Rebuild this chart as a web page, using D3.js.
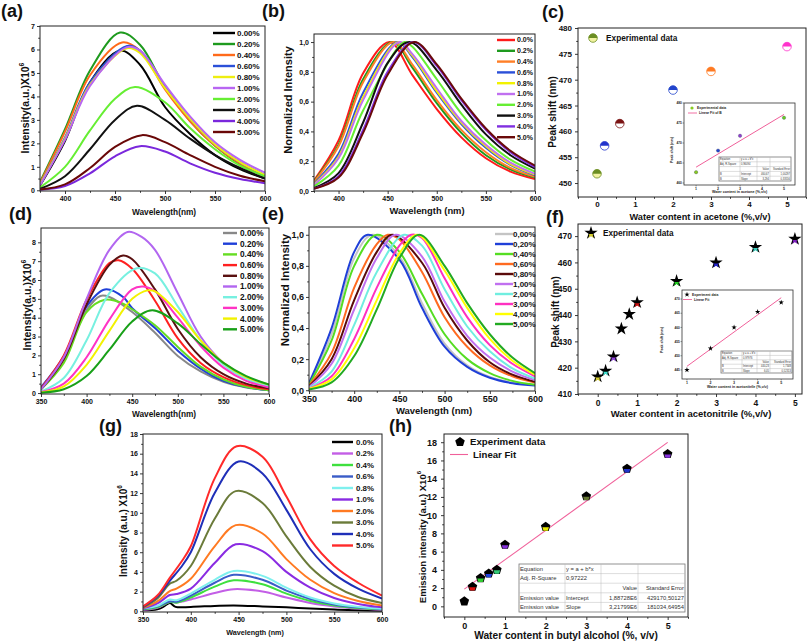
<!DOCTYPE html>
<html><head><meta charset="utf-8">
<script src="https://cdn.jsdelivr.net/npm/d3@7/dist/d3.min.js"></script>
<style>html,body{margin:0;padding:0;background:#fff;overflow:hidden}</style>
</head><body>
<script>
// ================= DATA =================
// (a) emission spectra, acetone (intensity x10^6)
const aLabels = ["0.00%","0.20%","0.40%","0.60%","0.80%","1.00%","2.00%","3.00%","4.00%","5.00%"];
const aXTicks = [400,450,500,550,600];
const aYTicks = [0,1,2,3,4,5,6,7];
const aSeries = [
 [[375,.2],[400,2.1],[425,4.6],[455,5.95],[475,5.35],[500,3.55],[525,2.4],[550,1.5],[575,.9],[600,.5]],
 [[375,.35],[400,2.6],[425,5.1],[455,6.72],[475,6.2],[500,4.4],[525,2.95],[550,1.9],[575,1.12],[600,.6]],
 [[375,.3],[400,2.5],[425,4.9],[457,6.3],[475,5.95],[500,4.3],[525,2.95],[550,1.9],[575,1.15],[600,.62]],
 [[375,.25],[400,2.25],[425,4.6],[462,6.15],[475,5.95],[500,4.4],[525,3.05],[550,1.95],[575,1.2],[600,.65]],
 [[375,.25],[400,2.2],[425,4.5],[462,6.05],[475,5.85],[500,4.35],[525,3.05],[550,1.95],[575,1.2],[600,.65]],
 [[375,.22],[400,2.15],[425,4.45],[462,6.1],[475,5.95],[500,4.5],[525,3.15],[550,2.05],[575,1.3],[600,.75]],
 [[375,.12],[400,1.0],[425,2.55],[450,3.9],[470,4.4],[500,3.75],[525,2.65],[550,1.75],[575,1.05],[600,.6]],
 [[375,.06],[400,.6],[425,1.75],[450,3.0],[472,3.6],[500,3.0],[525,2.2],[550,1.5],[575,.95],[600,.5]],
 [[375,.02],[400,.18],[425,.72],[450,1.45],[475,1.88],[500,1.65],[525,1.15],[550,.75],[575,.48],[600,.3]],
 [[375,.03],[400,.25],[425,.95],[450,1.85],[477,2.35],[500,2.05],[525,1.5],[550,1.0],[575,.62],[600,.38]]
];
// (b) normalized spectra, acetone
const bLabels = ["0.0%","0.2%","0.4%","0.6%","0.8%","1.0%","2.0%","3.0%","4.0%","5.0%"];
const bYTicks = [0,0.2,0.4,0.6,0.8,1.0];
const bSeries = [
 [[375,.07],[400,.34],[425,.79],[452,1],[475,.78],[500,.55],[525,.36],[550,.22],[575,.13],[600,.08]],
 [[375,.065],[400,.31],[425,.75],[455,1],[475,.83],[500,.59],[525,.39],[550,.24],[575,.145],[600,.09]],
 [[375,.06],[400,.30],[425,.73],[456,1],[475,.85],[500,.61],[525,.41],[550,.26],[575,.155],[600,.095]],
 [[375,.05],[400,.25],[425,.66],[460,1],[475,.90],[500,.66],[525,.45],[550,.29],[575,.175],[600,.105]],
 [[375,.045],[400,.23],[425,.63],[461,1],[475,.91],[500,.67],[525,.46],[550,.30],[575,.18],[600,.11]],
 [[375,.04],[400,.22],[425,.61],[462,1],[475,.92],[500,.69],[525,.47],[550,.31],[575,.19],[600,.115]],
 [[375,.03],[400,.17],[425,.54],[467,1],[475,.97],[500,.75],[525,.52],[550,.34],[575,.21],[600,.13]],
 [[375,.02],[400,.12],[425,.46],[450,.86],[472,1],[500,.81],[525,.58],[550,.38],[575,.24],[600,.15]],
 [[375,.015],[400,.10],[425,.41],[450,.80],[476,1],[500,.84],[525,.61],[550,.41],[575,.26],[600,.16]],
 [[375,.015],[400,.09],[425,.39],[450,.78],[477,1],[500,.85],[525,.62],[550,.42],[575,.27],[600,.17]]
];
// (c) peak shift, acetone
const cX = [0,0.2,0.6,2,3,5];
const cY = [451.8,457.2,461.5,468,471.6,476.4];
const cXTicks = [0,1,2,3,4,5];
const cYTicks = [450,455,460,465,470,475,480];
const cInsetX = [1,2,3,5];
const cInsetY = [462.7,468.1,471.8,476.3];
const cInsetXTicks = [1,2,3,4,5];
const cInsetYTicks = [460,465,470,475,480];
const cFit = {intercept: 460.67, slope: 3.294, x0: 1, x1: 5};
const cTable = [["Equation","y = a + b*x","",""],["Adj. R-Square","0,96094","",""],["","","Value","Standard Error"],["B","Intercept","460,67","1,00297"],["B","Slope","3,294","0,33556"]];
// (d) emission spectra, acetonitrile
const dLabels = ["0.00%","0.20%","0.40%","0.60%","0.80%","1.00%","2.00%","3.00%","4.00%","5.00%"];
const dXTicks = [350,400,450,500,550,600];
const dYTicks = [0,1,2,3,4,5,6,7,8];
const dSeries = [
 [[350,.3],[375,1.85],[400,4.4],[415,5.15],[425,5.1],[450,4.3],[475,3.2],[500,1.97],[525,1.15],[550,.6],[575,.3],[600,.15]],
 [[350,.3],[375,1.95],[400,4.6],[420,5.5],[440,5.1],[450,4.5],[475,3.45],[500,2.25],[525,1.3],[550,.65],[575,.32],[600,.15]],
 [[350,.2],[375,1.6],[400,4.3],[420,4.95],[440,4.75],[450,4.45],[475,3.6],[500,2.45],[525,1.4],[550,.72],[575,.33],[600,.15]],
 [[350,.25],[375,2.0],[400,4.95],[425,6.9],[435,7.05],[450,6.6],[475,4.9],[500,2.9],[525,1.6],[550,.85],[575,.42],[600,.2]],
 [[350,.2],[375,1.8],[400,4.7],[425,6.8],[440,7.3],[450,7.1],[475,5.5],[500,3.4],[525,1.9],[550,1.0],[575,.5],[600,.25]],
 [[350,.2],[375,1.9],[400,5.0],[425,7.6],[445,8.55],[460,8.3],[475,7.6],[500,5.3],[525,3.0],[550,1.6],[575,.8],[600,.4]],
 [[350,.08],[375,.8],[400,2.8],[425,5.3],[455,6.62],[475,6.35],[500,4.6],[525,2.8],[550,1.5],[575,.75],[600,.35]],
 [[350,.05],[375,.5],[400,1.9],[425,3.9],[450,5.5],[462,5.65],[475,5.4],[500,4.0],[525,2.5],[550,1.35],[575,.65],[600,.3]],
 [[350,.03],[375,.35],[400,1.5],[425,3.3],[450,5.0],[467,5.45],[475,5.4],[500,4.3],[525,2.8],[550,1.6],[575,.85],[600,.45]],
 [[350,.02],[375,.2],[400,.9],[425,2.3],[450,3.8],[472,4.4],[500,3.7],[525,2.6],[550,1.6],[575,.9],[600,.45]]
];
// (e) normalized spectra, acetonitrile
const eLabels = ["0,00%","0,20%","0,40%","0,60%","0,80%","1,00%","2,00%","3,00%","4,00%","5,00%"];
const eYTicks = [0,0.2,0.4,0.6,0.8,1.0];
const eSeries = [
 [[350,.04],[375,.36],[400,.85],[420,1],[450,.86],[475,.56],[500,.30],[525,.16],[550,.085],[575,.05],[600,.035]],
 [[350,.045],[375,.40],[400,.89],[415,1],[450,.84],[475,.53],[500,.28],[525,.15],[550,.08],[575,.045],[600,.03]],
 [[350,.035],[375,.32],[400,.80],[425,1],[450,.89],[475,.62],[500,.36],[525,.20],[550,.11],[575,.06],[600,.035]],
 [[350,.03],[375,.24],[400,.66],[425,.94],[437,1],[450,.97],[475,.76],[500,.47],[525,.28],[550,.16],[575,.09],[600,.05]],
 [[350,.025],[375,.20],[400,.58],[425,.89],[442,1],[475,.82],[500,.53],[525,.32],[550,.18],[575,.10],[600,.055]],
 [[350,.02],[375,.17],[400,.52],[425,.85],[446,1],[475,.86],[500,.57],[525,.35],[550,.21],[575,.12],[600,.065]],
 [[350,.015],[375,.12],[400,.42],[425,.76],[455,1],[475,.93],[500,.65],[525,.41],[550,.25],[575,.14],[600,.075]],
 [[350,.01],[375,.09],[400,.33],[425,.66],[450,.93],[463,1],[475,.98],[500,.72],[525,.47],[550,.29],[575,.17],[600,.09]],
 [[350,.01],[375,.07],[400,.27],[425,.58],[450,.88],[470,1],[500,.77],[525,.53],[550,.33],[575,.19],[600,.10]],
 [[350,.005],[375,.05],[400,.22],[425,.52],[450,.85],[472,1],[500,.80],[525,.56],[550,.36],[575,.21],[600,.11]]
];
// (f) peak shift, acetonitrile
const fX = [0,0.2,0.4,0.6,0.8,1.0,2,3,4,5];
const fY = [416.6,418.8,424.2,434.8,440.3,444.8,452.9,459.9,465.8,468.9];
const fXTicks = [0,1,2,3,4,5];
const fYTicks = [410,420,430,440,450,460,470];
const fInsetX = [1,2,3,4,5];
const fInsetY = [445,452.6,460,465.5,468.8];
const fInsetXTicks = [1,2,3,4,5];
const fInsetYTicks = [445,450,455,460,465,470];
const fFit = {intercept: 440.23, slope: 6.05, x0: 1, x1: 5};
const fTable = [["Equation","y = a + b*x","",""],["Adj. R-Square","0,97976","",""],["","","Value","Standard Error"],["B","Intercept","440,23","1,7348"],["B","Slope","6,05","0,52313"]];
// (g) emission spectra, butyl alcohol
const gLabels = ["0.0%","0.2%","0.4%","0.6%","0.8%","1.0%","2.0%","3.0%","4.0%","5.0%"];
const gXTicks = [350,400,450,500,550,600];
const gYTicks = [0,2,4,6,8,10,12,14,16,18];
const gSeries = [
 [[350,.1],[365,.2],[372,.5],[378,.85],[384,.45],[400,.45],[425,.55],[445,.6],[475,.5],[500,.4],[525,.28],[550,.18],[575,.1],[600,.05]],
 [[350,.15],[365,.35],[378,.95],[385,.9],[400,1.2],[425,1.85],[445,2.25],[475,2.0],[500,1.4],[525,.85],[550,.5],[575,.28],[600,.15]],
 [[350,.2],[365,.4],[378,.95],[385,.88],[400,1.4],[425,2.5],[445,3.15],[475,2.75],[500,1.8],[525,1.05],[550,.6],[575,.33],[600,.2]],
 [[350,.25],[365,.5],[378,1.0],[385,.97],[400,1.6],[425,2.9],[445,3.7],[475,3.2],[500,2.1],[525,1.25],[550,.7],[575,.4],[600,.22]],
 [[350,.3],[365,.55],[378,1.2],[385,1.12],[400,1.8],[425,3.2],[445,4.1],[475,3.6],[500,2.4],[525,1.4],[550,.8],[575,.45],[600,.25]],
 [[350,.3],[365,.8],[378,1.65],[385,1.75],[400,2.3],[425,4.9],[447,6.8],[475,6.1],[500,4.0],[525,2.4],[550,1.35],[575,.75],[600,.4]],
 [[350,.35],[365,1.0],[378,2.05],[385,2.3],[400,3.3],[425,6.6],[447,8.75],[475,7.9],[500,5.3],[525,3.2],[550,1.85],[575,1.05],[600,.6]],
 [[350,.4],[365,1.3],[378,2.8],[385,3.1],[400,4.6],[425,9.4],[447,12.2],[475,11.0],[500,7.6],[525,4.5],[550,2.6],[575,1.45],[600,.85]],
 [[350,.45],[365,1.5],[378,3.1],[390,4.5],[400,6.0],[425,12.0],[450,15.2],[475,14.0],[500,10.3],[525,6.3],[550,3.8],[575,2.3],[600,1.3]],
 [[350,.5],[365,1.6],[378,3.4],[390,5.0],[400,6.6],[425,13.5],[448,16.75],[475,15.7],[500,11.65],[525,7.3],[550,4.6],[575,2.9],[600,1.6]]
];
// (h) emission intensity vs water content, butyl alcohol
const hX = [0,0.2,0.4,0.6,0.8,1,2,3,4,5];
const hY = [0.55,2.15,3.1,3.6,4.0,6.75,8.72,12.08,15.1,16.7];
const hXTicks = [0,1,2,3,4,5];
const hYTicks = [0,2,4,6,8,10,12,14,16,18];
const hFit = {intercept: 1.88728, slope: 3.21799, x0: 0, x1: 5};
const hTable = [["Equation","y = a + b*x","",""],["Adj. R-Square","0,97222","",""],["","","Value","Standard Error"],["Emission value","Intercept","1,88728E6","429170,50127"],["Emission value","Slope","3,21799E6","181034,64954"]];

// ================= STYLES =================
const FONT = "'Liberation Sans', Arial, Helvetica, sans-serif";
const aColors = ["#000000","#1e9a1e","#ff6a1a","#2b50d8","#eeee10","#b866f2","#66ee33","#111111","#7a28dc","#6a0808"];
const bColors = ["#ff1a1a","#1e9a1e","#ff7f27","#2b50d8","#f2f200","#c070f0","#66ee33","#111111","#8030e0","#6a0a0a"];
const dColors = ["#888888","#1f3fd8","#66dd22","#ff2020","#5a1010","#b266f0","#77f0e0","#ff33c4","#f2f200","#18a018"];
const eColors = ["#c4c4c4","#1f3fd8","#55dd22","#ff6a20","#5a0a0a","#c070f0","#70eee0","#ff30c0","#ffff00","#22aa22"];
const gColors = ["#000000","#c35ee6","#3ee03e","#3a5cc8","#7ff0ee","#8a2be2","#ff7a22","#6b7b3a","#1f2fb8","#ff2a2a"];
const cTop = ["#6b8e23","#2233cc","#7a1212","#2244cc","#ff7a22","#ff33cc"];
const cBot = ["#f2f2a0","#ffffff","#ffffff","#ffffff","#ffffff","#ffffff"];
const cInsetCol = ["#88cc22","#2244cc","#9040d0","#66cc22"];
const fCol = ["#d8d030","#40e0d0","#9040e0","#000000","#000000","#cc1010","#22cc22","#2222cc","#40d0c0","#8020c0"];
const hCol = ["#000000","#e01010","#33cc33","#2244dd","#33cc77","#8833dd","#e8e800","#667733","#2233cc","#8833dd"];
const PINK = "#f0609a";

const svg = d3.select('body').append('svg').attr('width',808).attr('height',642)
  .style('display','block').attr('font-family',FONT);
const defs = svg.append('defs');
defs.append('clipPath').attr('id','lowHalf').attr('clipPathUnits','objectBoundingBox')
  .append('rect').attr('x',-0.1).attr('y',0.5).attr('width',1.2).attr('height',0.6);
const comma1 = d => d.toFixed(1).replace('.', ',');

function axisStyle(sel, fs){
  sel.select('.domain').remove();
  sel.attr('font-family',null).attr('font-size',null);
  sel.selectAll('line').attr('stroke','#222').attr('stroke-width',0.9);
  sel.selectAll('text').attr('font-family',FONT).attr('font-size',fs).attr('font-weight','bold').attr('fill','#111');
}
function drawAxes(g, x, y, p){
  const gx = g.append('g').attr('transform',`translate(0,${p.B})`)
    .call(d3.axisBottom(x).tickValues(p.xt).tickSize(3).tickPadding(p.xpad ?? 2).tickFormat(p.xf || (d=>d)));
  axisStyle(gx, p.tf);
  const gy = g.append('g').attr('transform',`translate(${p.L},0)`)
    .call(d3.axisLeft(y).tickValues(p.yt).tickSize(3).tickPadding(p.ypad ?? 2).tickFormat(p.yf || (d=>d)));
  axisStyle(gy, p.tf);
  if (p.xm){ const m = g.append('g').attr('transform',`translate(0,${p.B})`).call(d3.axisBottom(x).tickValues(p.xm).tickSize(1.8).tickFormat(()=>'')); axisStyle(m,p.tf); }
  if (p.ym){ const m = g.append('g').attr('transform',`translate(${p.L},0)`).call(d3.axisLeft(y).tickValues(p.ym).tickSize(1.8).tickFormat(()=>'')); axisStyle(m,p.tf); }
  g.append('rect').attr('x',p.L).attr('y',p.T).attr('width',p.R-p.L).attr('height',p.B-p.T)
    .attr('fill','none').attr('stroke','#222').attr('stroke-width',1);
}
function panelLabel(x, y, t){
  svg.append('text').attr('x',x).attr('y',y).attr('font-size',18).attr('font-weight','bold').attr('fill','#111').text(t);
}
function xTitle(cx, y, t, fs){
  svg.append('text').attr('x',cx).attr('y',y).attr('text-anchor','middle').attr('font-size',fs)
    .attr('font-weight','bold').attr('fill','#111').text(t);
}
function yTitle(x, cy, parts, fs){
  const t = svg.append('text').attr('transform',`translate(${x},${cy}) rotate(-90)`).attr('text-anchor','middle')
    .attr('dominant-baseline','central').attr('font-size',fs).attr('font-weight','bold').attr('fill','#111');
  parts.forEach(pt=>{
    if (pt.sup) t.append('tspan').attr('font-size',fs*0.65).attr('dy',-fs*0.4).text(pt.t);
    else t.append('tspan').text(pt.t);
  });
}
function spectrum(p){
  const g = svg.append('g');
  const x = d3.scaleLinear().domain(p.xd).range([p.L,p.R]);
  const y = d3.scaleLinear().domain(p.yd).range([p.B,p.T]);
  const id = 'cl'+p.id;
  defs.append('clipPath').attr('id',id).append('rect').attr('x',p.L).attr('y',p.T).attr('width',p.R-p.L).attr('height',p.B-p.T);
  const line = d3.line().x(d=>x(d[0])).y(d=>y(d[1])).curve(d3.curveCatmullRom.alpha(0.5));
  const lg = g.append('g').attr('clip-path',`url(#${id})`);
  p.series.forEach((s,i)=>lg.append('path').attr('d',line(s)).attr('fill','none')
    .attr('stroke',p.colors[i]).attr('stroke-width',p.lw||2).attr('stroke-linejoin','round'));
  drawAxes(g,x,y,p);
  const L = p.leg;
  p.labels.forEach((t,i)=>{
    const yy = L.y + i*L.dy;
    g.append('line').attr('x1',L.x1).attr('x2',L.x2).attr('y1',yy).attr('y2',yy).attr('stroke',p.colors[i]).attr('stroke-width',2.4);
    g.append('text').attr('x',L.tx).attr('y',yy).attr('dy','0.35em').attr('font-size',L.fs).attr('font-weight','bold').attr('fill','#111').text(t);
  });
}
// markers
const symbolPentagon = { draw(ctx, size){ const r = Math.sqrt(size/2.3776);
  for (let i=0;i<5;i++){ const a = -Math.PI/2 + i*2*Math.PI/5; const px=r*Math.cos(a), py=r*Math.sin(a); if(i===0) ctx.moveTo(px,py); else ctx.lineTo(px,py);} ctx.closePath(); } };
function halfCircle(g, cx, cy, r, top, bot){
  g.append('circle').attr('cx',cx).attr('cy',cy).attr('r',r).attr('fill',bot).attr('stroke',top).attr('stroke-width',0.8);
  g.append('path').attr('d',`M${cx-r},${cy} A${r},${r} 0 0 1 ${cx+r},${cy} Z`).attr('fill',top);
}
function starMark(g, cx, cy, col, size){
  g.append('path').attr('d',d3.symbol(d3.symbolStar,size)()).attr('transform',`translate(${cx},${cy})`).attr('fill','#000');
  if (col !== '#000000') g.append('path').attr('d',d3.symbol(d3.symbolStar,size*0.4)())
    .attr('transform',`translate(${cx},${cy+1.3})`).attr('fill',col).attr('clip-path','url(#lowHalf)');
}
function pentMark(g, cx, cy, col, size){
  g.append('path').attr('d',d3.symbol(symbolPentagon,size)()).attr('transform',`translate(${cx},${cy})`).attr('fill','#000');
  if (col !== '#000000') g.append('path').attr('d',d3.symbol(symbolPentagon,size*0.55)())
    .attr('transform',`translate(${cx},${cy+0.8})`).attr('fill',col).attr('clip-path','url(#lowHalf)');
}
function table(g, cols, y0, rh, rows, fs, aligns){
  const w = cols[cols.length-1]-cols[0];
  g.append('rect').attr('x',cols[0]).attr('y',y0).attr('width',w).attr('height',rh*rows.length)
    .attr('fill','#fff').attr('stroke','#777').attr('stroke-width',0.8);
  for (let r=1;r<rows.length;r++) g.append('line').attr('x1',cols[0]).attr('x2',cols[cols.length-1]).attr('y1',y0+r*rh).attr('y2',y0+r*rh).attr('stroke','#bbb').attr('stroke-width',0.5);
  for (let c=1;c<cols.length-1;c++) g.append('line').attr('x1',cols[c]).attr('x2',cols[c]).attr('y1',y0).attr('y2',y0+rh*rows.length).attr('stroke','#bbb').attr('stroke-width',0.5);
  rows.forEach((row,r)=>row.forEach((t,c)=>{
    if(!t) return;
    const right = aligns[c]==='end';
    g.append('text').attr('x', right ? cols[c+1]-1 : cols[c]+1).attr('y',y0+r*rh+rh/2).attr('dy','0.35em')
      .attr('text-anchor', right?'end':'start').attr('font-size',fs).attr('fill','#333').text(t);
  }));
}
function inset(p){
  const g = svg.append('g');
  const x = d3.scaleLinear().domain(p.xd).range([p.L,p.R]);
  const y = d3.scaleLinear().domain(p.yd).range([p.B,p.T]);
  g.append('rect').attr('x',p.L).attr('y',p.T).attr('width',p.R-p.L).attr('height',p.B-p.T).attr('fill','#fff').attr('stroke','#333').attr('stroke-width',0.8);
  p.xt.forEach(v=>{ g.append('line').attr('x1',x(v)).attr('x2',x(v)).attr('y1',p.B).attr('y2',p.B+1.5).attr('stroke','#333').attr('stroke-width',0.5);
    g.append('text').attr('x',x(v)).attr('y',p.B+4.6).attr('text-anchor','middle').attr('font-size',3.6).attr('font-weight','bold').attr('fill','#222').text(v); });
  p.yt.forEach(v=>{ g.append('line').attr('x1',p.L-1.5).attr('x2',p.L).attr('y1',y(v)).attr('y2',y(v)).attr('stroke','#333').attr('stroke-width',0.5);
    g.append('text').attr('x',p.L-2.2).attr('y',y(v)).attr('dy','0.35em').attr('text-anchor','end').attr('font-size',3.2).attr('font-weight','bold').attr('fill','#222').text(v); });
  g.append('line').attr('x1',x(p.fit.x0)).attr('x2',x(p.fit.x1))
    .attr('y1',y(p.fit.intercept+p.fit.slope*p.fit.x0)).attr('y2',y(p.fit.intercept+p.fit.slope*p.fit.x1))
    .attr('stroke',PINK).attr('stroke-width',1);
  p.px.forEach((v,i)=>p.mark(g, x(v), y(p.py[i]), i));
  p.legMark(g, p.leg.x, p.leg.y);
  g.append('text').attr('x',p.leg.x+5).attr('y',p.leg.y).attr('dy','0.35em').attr('font-size',3.4).attr('font-weight','bold').attr('fill','#222').text(p.leg.t1);
  g.append('line').attr('x1',p.leg.x-4).attr('x2',p.leg.x+5).attr('y1',p.leg.y+5).attr('y2',p.leg.y+5).attr('stroke',PINK).attr('stroke-width',0.9);
  g.append('text').attr('x',p.leg.x+7).attr('y',p.leg.y+5).attr('dy','0.35em').attr('font-size',3.4).attr('font-weight','bold').attr('fill','#222').text(p.leg.t2);
  table(g, p.tab.cols, p.tab.y0, p.tab.rh, p.tab.rows, 2.6, ['start','start','end','end']);
  svg.append('text').attr('x',(p.L+p.R)/2).attr('y',p.xtY).attr('text-anchor','middle').attr('font-size',3.6).attr('font-weight','bold').attr('fill','#222').text(p.xtitle);
  svg.append('text').attr('transform',`translate(${p.ytX},${p.ytY}) rotate(-90)`).attr('text-anchor','middle').attr('font-size',3.6).attr('font-weight','bold').attr('fill','#222').text(p.ytitle);
}
const range = (a,b,s) => d3.range(a, b+s/2, s);

// ================= (a) =================
spectrum({id:'a', L:40, R:265, T:26, B:191, xd:[375,600], yd:[-0.03,7], xt:aXTicks, xm:[375,425,475,525,575],
  yt:aYTicks, ym:range(0.5,6.5,1), tf:7, series:aSeries, colors:aColors, labels:aLabels,
  leg:{x1:213,x2:235,tx:237,y:33,dy:11,fs:8}});
panelLabel(1,17,'(a)');
xTitle(164,215,'Wavelength(nm)',8.3);
yTitle(25,108,[{t:'Intensity(a.u.)X10'},{t:'6',sup:true}],10.5);

// ================= (b) =================
spectrum({id:'b', L:314, R:535, T:34, B:191, xd:[375,600], yd:[0,1.054], xt:aXTicks, xm:[375,425,475,525,575],
  yt:bYTicks, ym:range(0.1,0.9,0.2), yf:comma1, tf:7, series:bSeries, colors:bColors, labels:bLabels,
  leg:{x1:497,x2:515,tx:517,y:40,dy:10.8,fs:7}});
panelLabel(262,17,'(b)');
xTitle(427,214,'Wavelength (nm)',9.4);
yTitle(288,100,[{t:'Normalized Intensity'}],11);

// ================= (c) =================
(function(){
  const p = {L:578, R:806, T:28, B:197, xd:[-0.5,5.5], yd:[447.3,480], xt:cXTicks, xm:[-0.5,0.5,1.5,2.5,3.5,4.5,5.5],
    yt:cYTicks, ym:range(452.5,477.5,5), tf:8, xpad:1.5, ypad:3};
  const g = svg.append('g');
  const x = d3.scaleLinear().domain(p.xd).range([p.L,p.R]);
  const y = d3.scaleLinear().domain(p.yd).range([p.B,p.T]);
  drawAxes(g,x,y,p);
  cX.forEach((v,i)=>halfCircle(g, x(v), y(cY[i]), 4.3, cTop[i], cBot[i]));
  halfCircle(g, 593, 38, 4.3, cTop[0], cBot[0]);
  g.append('text').attr('x',606).attr('y',38).attr('dy','0.35em').attr('font-size',8.3).attr('font-weight','bold').attr('fill','#111').text('Experimental data');
  inset({L:684, R:795, T:103, B:185, xd:[0.45,5.5], yd:[459.5,480], xt:cInsetXTicks, yt:cInsetYTicks,
    fit:cFit, px:cInsetX, py:cInsetY,
    mark:(gg,cx,cy,i)=>gg.append('circle').attr('cx',cx).attr('cy',cy).attr('r',1.7).attr('fill',cInsetCol[i]).attr('stroke','#335').attr('stroke-width',0.3),
    legMark:(gg,cx,cy)=>gg.append('circle').attr('cx',cx).attr('cy',cy).attr('r',1.6).attr('fill','#88cc22'),
    leg:{x:692,y:108,t1:'Experimental data',t2:'Linear Fit of B'},
    tab:{cols:[719,740,757,770,791], y0:157, rh:4.8, rows:cTable},
    xtitle:'Water content in acetone (%,v/v)', xtY:193, ytitle:'Peak shift (nm)', ytX:673, ytY:150});
})();
panelLabel(542,18,'(c)');
xTitle(700,219.5,'Water content in acetone (%,v/v)',9.2);
yTitle(552,112,[{t:'Peak shift (nm)'}],10);

// ================= (d) =================
spectrum({id:'d', L:41, R:269, T:228, B:394, xd:[350,600], yd:[-0.05,8.76], xt:dXTicks, xm:[375,425,475,525,575],
  yt:dYTicks, ym:range(0.5,7.5,1), tf:7, series:dSeries, colors:dColors, labels:dLabels,
  leg:{x1:223,x2:237,tx:240,y:233,dy:10.7,fs:8.3}});
panelLabel(9,220,'(d)');
xTitle(164,417,'Wavelength(nm)',8.3);
yTitle(27,305,[{t:'Intensity(a.u.)X10'},{t:'6',sup:true}],10.5);

// ================= (e) =================
spectrum({id:'e', L:309, R:535, T:227, B:391, xd:[350,600], yd:[-0.005,1.05], xt:dXTicks, xm:[375,425,475,525,575],
  yt:eYTicks, ym:range(0.1,0.9,0.2), yf:comma1, tf:9, series:eSeries, colors:eColors, labels:eLabels, lw:2,
  leg:{x1:495,x2:513,tx:513,y:234,dy:10,fs:8}});
panelLabel(262,220,'(e)');
xTitle(434,414,'Wavelength (nm)',9.5);
yTitle(285,290,[{t:'Normalized Intensity'}],11.5);

// ================= (f) =================
(function(){
  const p = {L:578, R:802, T:224, B:394, xd:[-0.5,5.18], yd:[410,474.6], xt:fXTicks, xm:[-0.5,0.5,1.5,2.5,3.5,4.5],
    yt:fYTicks, ym:range(415,465,10), tf:8.5, xpad:3, ypad:3};
  const g = svg.append('g');
  const x = d3.scaleLinear().domain(p.xd).range([p.L,p.R]);
  const y = d3.scaleLinear().domain(p.yd).range([p.B,p.T]);
  drawAxes(g,x,y,p);
  fX.forEach((v,i)=>starMark(g, x(v), y(fY[i]), fCol[i], 55));
  starMark(g, 591, 233, '#d8d030', 55);
  g.append('text').attr('x',603).attr('y',233).attr('dy','0.35em').attr('font-size',8.2).attr('font-weight','bold').attr('fill','#111').text('Experimental data');
  inset({L:682, R:793, T:290, B:379, xd:[0.79,5.5], yd:[441.8,473.2], xt:fInsetXTicks, yt:fInsetYTicks,
    fit:fFit, px:fInsetX, py:fInsetY,
    mark:(gg,cx,cy)=>gg.append('path').attr('d',d3.symbol(d3.symbolStar,9)()).attr('transform',`translate(${cx},${cy})`).attr('fill','#000'),
    legMark:(gg,cx,cy)=>gg.append('path').attr('d',d3.symbol(d3.symbolStar,9)()).attr('transform',`translate(${cx},${cy})`).attr('fill','#000'),
    leg:{x:687,y:294.5,t1:'Experiment data',t2:'Linear Fit'},
    tab:{cols:[721,742,757,770,792], y0:351, rh:4.4, rows:fTable},
    xtitle:'Water content in acetonitrile (%,v/v)', xtY:388, ytitle:'Peak shift (nm)', ytX:663, ytY:340});
})();
panelLabel(546,223,'(f)');
xTitle(691,417,'Water content in acetonitrile (%,v/v)',9.5);
yTitle(555,312,[{t:'Peak shift (nm)'}],10);

// ================= (g) =================
spectrum({id:'g', L:143, R:382, T:434, B:612, xd:[350,600], yd:[-0.07,18], xt:gXTicks, xm:[375,425,475,525,575],
  yt:gYTicks, ym:range(1,17,2), tf:7, series:gSeries, colors:gColors, labels:gLabels,
  leg:{x1:332,x2:353,tx:356,y:442,dy:11.5,fs:7.9}});
panelLabel(99,432,'(g)');
xTitle(255,635,'Wavelength (nm)',7.2);
yTitle(123,531,[{t:'Intensity (a.u.) X10'},{t:'6',sup:true}],10);

// ================= (h) =================
(function(){
  const p = {L:444, R:688, T:434, B:617, xd:[-0.5,5.5], yd:[-1.17,18.9], xt:hXTicks, xm:[-0.5,0.5,1.5,2.5,3.5,4.5,5.5],
    yt:hYTicks, ym:range(1,17,2), tf:9, xpad:3, ypad:4};
  const g = svg.append('g');
  const x = d3.scaleLinear().domain(p.xd).range([p.L,p.R]);
  const y = d3.scaleLinear().domain(p.yd).range([p.B,p.T]);
  drawAxes(g,x,y,p);
  g.append('line').attr('x1',x(hFit.x0)).attr('x2',x(hFit.x1))
    .attr('y1',y(hFit.intercept+hFit.slope*hFit.x0)).attr('y2',y(hFit.intercept+hFit.slope*hFit.x1))
    .attr('stroke',PINK).attr('stroke-width',1.1);
  hX.forEach((v,i)=>pentMark(g, x(v), y(hY[i]), hCol[i], 60));
  pentMark(g, 460, 442, '#000000', 60);
  g.append('text').attr('x',470).attr('y',442).attr('dy','0.35em').attr('font-size',9.7).attr('font-weight','bold').attr('fill','#111').text('Experiment data');
  g.append('line').attr('x1',450).attr('x2',468).attr('y1',454.5).attr('y2',454.5).attr('stroke',PINK).attr('stroke-width',1.1);
  g.append('text').attr('x',473).attr('y',454.5).attr('dy','0.35em').attr('font-size',9.6).attr('font-weight','bold').attr('fill','#111').text('Linear Fit');
  table(g, [519,565,601,638,685], 564, 9.6, hTable, 5.8, ['start','start','end','end']);
})();
panelLabel(389,432,'(h)');
xTitle(566,639,'Water content in butyl alcohol (%, v/v)',10.2);
yTitle(422,537,[{t:'Emission intensity (a.u.) X10'},{t:'6',sup:true}],9.5);
</script>
</body></html>
